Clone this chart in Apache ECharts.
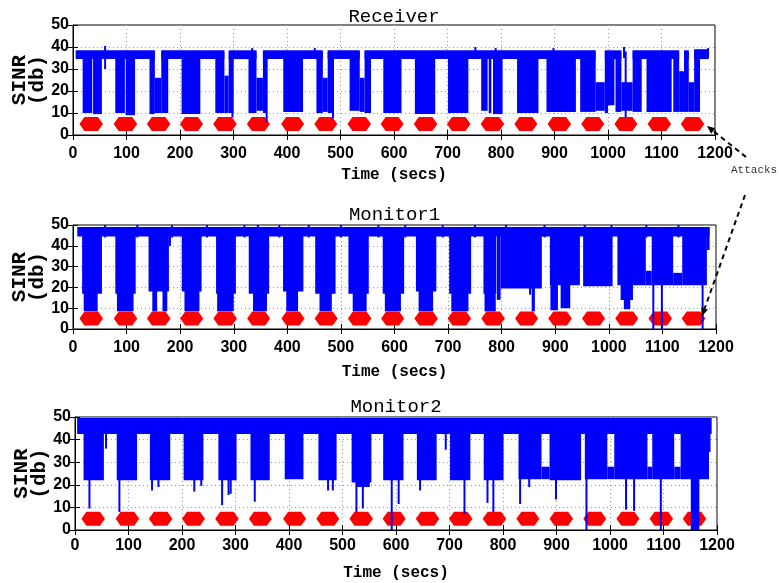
<!DOCTYPE html>
<html>
<head>
<meta charset="utf-8">
<script src="https://cdn.jsdelivr.net/npm/echarts@6/dist/echarts.min.js"></script>
<style>html,body{margin:0;padding:0;background:#fff}#c{width:779px;height:583px}</style>
</head>
<body>
<div id="c"></div>
<script>
// ---------------- DATA ----------------
const titles = ['Receiver', 'Monitor1', 'Monitor2'];
// attack periods (secs)
const attackStart = [12, 76, 138, 200, 262, 325, 389, 451, 513, 575, 637, 699, 762, 825, 887, 950, 1012, 1074, 1136];
const attackEnd   = [56, 120, 182, 243, 306, 368, 432, 494, 557, 618, 681, 743, 806, 868, 931, 993, 1055, 1118, 1180];
const attackLevel = 5;

// SINR envelope bands: [tStart, tEnd, low, high]
const receiverTop = [[5,153,34.5,38.5],[165,283,34.5,38.5],[291,343,34.5,38.5],[355,467,34.5,38.5],[476,536,34.5,38.5],[545,977,34.5,38.5],[994,1025,34.5,38.5],[1046,1133,34.5,38.5],[1142,1151,34.5,38.5],[1161,1188,34.5,39]];
const receiverBlocks = [
  [18,36,10,38],[37.5,54,9.5,38],
  [79,97,10,38],[98.5,116,9,38],
  [143,153,9.5,38],[153,165,10,26],[165,178,10,38],
  [203,238,9.5,38],
  [266,283,10,38],[283,291,10,27],[291,300,10,38],
  [328,343,10,38],[343,355,11,26],[355,362,10,38],
  [393,430,10.5,38],
  [455,467,10,38],[467,476,10.5,26],[476,486,10,38],
  [517,536,11,38],[536,545,10.5,26],[545,557,10,38],
  [580,614,10,38],
  [639,677,9.5,38],
  [701,739,10,38],
  [763,775,11,38],[777,782,10,38],[785,803,9.5,38],
  [830,870,10,38],
  [885,940,10.5,38],
  [948,977,10.5,38],[977,994,11,24],[994,1000,10,38],[1000,1012,13.5,38],
  [1014,1025,10.5,38],[1025,1046,11,24],[1046,1063,10.5,38],
  [1072,1119,10.5,38],
  [1122,1133,10.5,38],[1133,1142,10.5,29],[1142,1151,10.5,38],[1151,1161,10.5,24],[1161,1172,10.5,38]
];
// thin spikes: [t, low, high]
const receiverSpikes = [[60,30,40.5],[298,8,38],[362,6,38],[486,7.5,38],[1033,8,38],[335,35,39.5],[452,35,39.5],[752,35,40],[790,35,39.5],[898,35,39.5],[1030,35,40],[1187,35,39.5]];

const monitor1Top = [[8,1188,44.5,49]];
const monitor1Blocks = [
  [17,54,17,48],[20,46,8.5,48],
  [79,117,17,48],[82,113,8.5,48],
  [141,179,18,48],[148,157,8.5,48],[167,176,8.5,48],
  [203,240,18,48],[208,236,8.5,48],
  [267,304,17,48],[269,300,8.5,48],
  [328,366,17,48],[336,362,8.5,48],
  [392,430,18,48],[398,420,8.5,48],
  [452,490,17,48],[460,483,8.5,48],
  [514,552,17,48],[522,548,8.5,48],
  [578,618,17,48],[582,612,8.5,48],
  [640,678,18,48],[645,672,8.5,48],
  [702,743,17,48],[706,738,8.5,48],
  [766,790,17,48],[768,789,8.5,48],[791,798,14,46],
  [798,875,19.5,48],[856,862,8.5,48],
  [890,946,21,48],[891,905,9,48],[910,928,10,48],
  [952,1007,20.5,48],
  [1016,1069,21,48],[1022,1045,14,48],[1028,1040,9.5,48],
  [1069,1080,21,28],
  [1080,1120,21,48],
  [1120,1137,21,27],
  [1137,1183,21,48],
  [1183,1188,38,49]
];
const monitor1Spikes = [[181,40,48],[853,16.5,48],[1083,0,48],[1099,0,48],[1175,0,48],[60,44,50],[120,44,50],[185,44,50],[250,44,50],[320,44,50],[345,44,50],[385,44,50],[440,44,50],[500,44,50],[570,44,50],[620,44,50],[690,44,50],[750,44,50],[808,44,50],[880,44,50],[955,44,50],[1005,44,50],[1070,44,50],[1130,44,50]];

const monitor2Top = [[4,1190,42.5,49.6]];
const monitor2Blocks = [
  [16,54,22,48],[78,116,22,48],[140,178,22,48],[203,240,22,48],[268,302,22,48],
  [328,364,22,48],[392,427,22.5,48],[455,489,22,48],[517,554,21,48],[526,551,19,48],
  [576,614,22,48],[639,676,22,48],[701,739,22,48],[764,801,22,48],
  [829,872,22.5,48],[872,887,22.5,28],[887,946,22,48],
  [953,995,22.5,48],[995,1008,22.5,28],[1008,1070,22.5,48],[1070,1079,22.5,28],
  [1079,1120,22.5,48],[1120,1132,22.5,28],[1132,1185,22.5,48],
  [1151,1167,0,48]
];
const monitor2Spikes = [[27,9.5,48],[58,36,48],[83,8,48],[144,17.5,48],[156,19,48],[223,17,48],[236,19.5,48],
  [275,11,48],[287,15.5,48],[291,16,48],[336,12.5,48],[473,17.5,48],[482,17.5,48],[526,8,48],[538,9.5,48],
  [592,0,48],[605,11.5,48],[645,17.5,48],[693,35.5,48],[728,7,48],[771,12,48],[782,8,48],[832,11.5,48],[849,19,48],
  [899,13.5,48],[956,0,48],[1030,9,48],[1045,8.5,48],[1095,0,48],[1186,34.5,49]];

const bands = [receiverTop.concat(receiverBlocks), monitor1Top.concat(monitor1Blocks), monitor2Top.concat(monitor2Blocks)];
const spikes = [receiverSpikes, monitor1Spikes, monitor2Spikes];

// ---------------- LAYOUT ----------------
const grids = [
  {left: 73, right: 64, top: 25, height: 110},
  {left: 73, right: 63, top: 225, height: 104},
  {left: 75, right: 62, top: 417, height: 113}
];
const labelMargin = [11, 11, 8];
const nameGaps = [32, 35, 35];
const titleTops = [7, 205, 397];

const tickFont = {fontFamily: '"Liberation Sans", Arial, sans-serif', fontWeight: 'bold', fontSize: 16, color: '#000'};
const monoFont = '"Liberation Mono", "DejaVu Sans Mono", monospace';

const chart = echarts.init(document.getElementById('c'), null, {renderer: 'canvas'});

const attackData = attackStart.map((s, i) => [s, attackEnd[i], attackLevel]);

function rectItem(params, api) {
  const a = api.coord([api.value(0), api.value(3)]);
  const b = api.coord([api.value(1), api.value(2)]);
  return {type: 'rect', shape: {x: a[0], y: a[1], width: Math.max(b[0] - a[0], 1.5), height: b[1] - a[1]}, style: {fill: '#0000ff'}};
}
function spikeItem(params, api) {
  const a = api.coord([api.value(0), api.value(2)]);
  const b = api.coord([api.value(0), api.value(1)]);
  return {type: 'rect', shape: {x: a[0] - 1, y: a[1], width: 2, height: b[1] - a[1]}, style: {fill: '#0000ff'}};
}
function attackItem(params, api) {
  const a = api.coord([api.value(0), api.value(2)]);
  const b = api.coord([api.value(1), api.value(2)]);
  const h = 7, tip = 5;
  return {type: 'polygon', shape: {points: [[a[0], a[1]], [a[0] + tip, a[1] - h], [b[0] - tip, b[1] - h], [b[0], b[1]], [b[0] - tip, b[1] + h], [a[0] + tip, a[1] + h]]}, style: {fill: '#ff0000'}};
}

const xAxis = [], yAxis = [], series = [], title = [];
grids.forEach((g, i) => {
  title.push({text: titles[i], left: g.left + (779 - g.left - g.right) / 2, top: titleTops[i], textAlign: 'center', padding: 0,
    textStyle: {fontFamily: monoFont, fontWeight: 'normal', fontSize: 19, color: '#000'}});
  xAxis.push({gridIndex: i, type: 'value', min: 0, max: 1200, interval: 100,
    name: 'Time (secs)', nameLocation: 'middle', nameGap: nameGaps[i], nameMoveOverlap: false,
    nameTextStyle: {fontFamily: monoFont, fontWeight: 'bold', fontSize: 16, color: '#000'},
    axisLine: {lineStyle: {color: '#000', width: 1}},
    axisTick: {inside: true, length: 5, lineStyle: {color: '#000'}},
    axisLabel: Object.assign({margin: labelMargin[i], formatter: v => String(v)}, tickFont),
    splitLine: {show: true, lineStyle: {color: '#9a9a9a', type: [1, 3], width: 1}}});
  xAxis.push({gridIndex: i, type: 'value', min: 0, max: 1200, interval: 100, position: 'top',
    axisLine: {lineStyle: {color: '#000', width: 1}},
    axisTick: {inside: true, length: 5, lineStyle: {color: '#000'}},
    axisLabel: {show: false}, splitLine: {show: false}});
  yAxis.push({gridIndex: i, type: 'value', min: 0, max: 50, interval: 10,
    name: 'SINR\n(db)', nameLocation: 'middle', nameRotate: 90, nameGap: 26, nameMoveOverlap: false,
    nameTextStyle: {fontFamily: monoFont, fontWeight: 'bold', fontSize: 21, lineHeight: 18, color: '#000'},
    axisLine: {lineStyle: {color: '#000', width: 1}},
    axisTick: {inside: true, length: 5, lineStyle: {color: '#000'}},
    axisLabel: Object.assign({margin: 4, formatter: v => String(v)}, tickFont),
    splitLine: {show: true, lineStyle: {color: '#9a9a9a', type: [1, 3], width: 1}}});
  yAxis.push({gridIndex: i, type: 'value', min: 0, max: 50, interval: 10, position: 'right',
    axisLine: {lineStyle: {color: '#000', width: 1}},
    axisTick: {inside: true, length: 5, lineStyle: {color: '#000'}},
    axisLabel: {show: false}, splitLine: {show: false}});
  series.push({type: 'custom', xAxisIndex: 2 * i, yAxisIndex: 2 * i, clip: true, silent: true,
    renderItem: attackItem, data: attackData, encode: {x: [0, 1], y: 2}, z: 2});
  series.push({type: 'custom', xAxisIndex: 2 * i, yAxisIndex: 2 * i, clip: true, silent: true,
    renderItem: rectItem, data: bands[i], encode: {x: [0, 1], y: [2, 3]}, z: 3});
  series.push({type: 'custom', xAxisIndex: 2 * i, yAxisIndex: 2 * i, clip: true, silent: true,
    renderItem: spikeItem, data: spikes[i], encode: {x: 0, y: [1, 2]}, z: 3});
});

// annotation arrows
function arrow(x1, y1, x2, y2) {
  const ang = Math.atan2(y2 - y1, x2 - x1), L = 8, W = 3.5;
  const bx = x2 - L * Math.cos(ang), by = y2 - L * Math.sin(ang);
  const px = -Math.sin(ang) * W, py = Math.cos(ang) * W;
  return [
    {type: 'line', shape: {x1: x1, y1: y1, x2: bx, y2: by}, style: {stroke: '#000', lineWidth: 2, lineDash: [5, 4]}, z: 10},
    {type: 'polygon', shape: {points: [[x2, y2], [bx + px, by + py], [bx - px, by - py]]}, style: {fill: '#000'}, z: 10}
  ];
}
const graphic = [].concat(
  arrow(746, 157, 707, 126),
  arrow(745, 195, 702, 316),
  [{type: 'text', left: 731, top: 165, style: {text: 'Attacks', font: '11px ' + monoFont, fill: '#333'}, z: 10}]
);

chart.setOption({
  animation: false,
  backgroundColor: '#fff',
  title: title,
  grid: grids.map(g => Object.assign({show: true, borderColor: '#000', borderWidth: 1, backgroundColor: '#fff', containLabel: false, outerBoundsMode: 'none'}, g)),
  xAxis: xAxis,
  yAxis: yAxis,
  series: series,
  graphic: graphic
});
</script>
</body>
</html>
